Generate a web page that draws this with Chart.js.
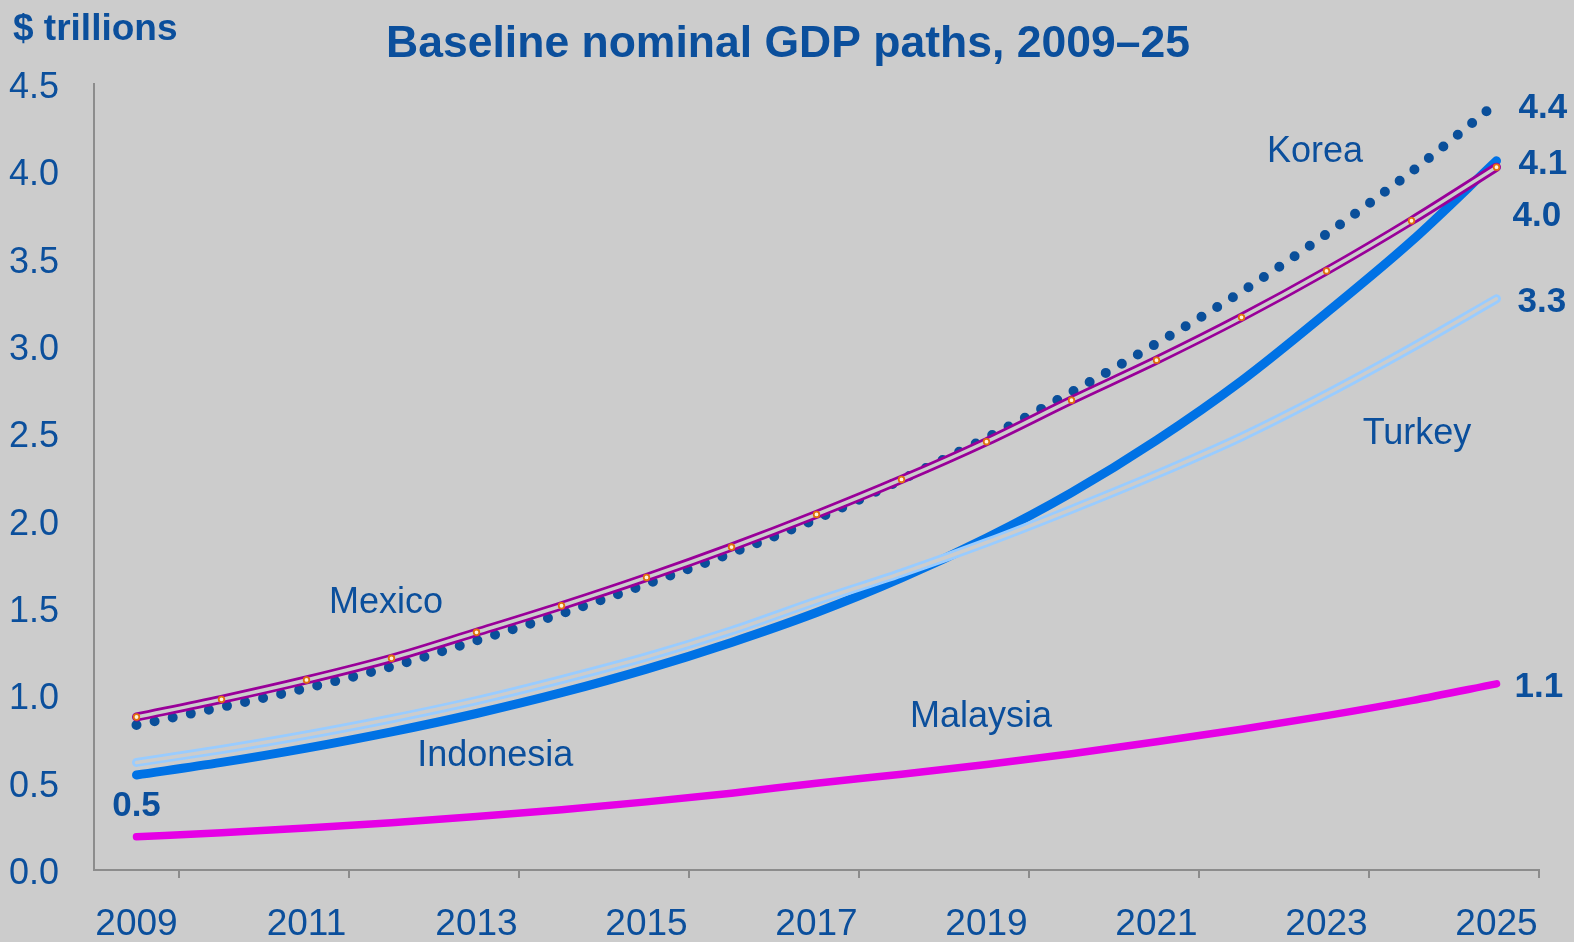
<!DOCTYPE html>
<html>
<head>
<meta charset="utf-8">
<script src="https://cdn.jsdelivr.net/npm/chart.js@4.4.1/dist/chart.umd.min.js"></script>
<style>
  html, body { margin: 0; padding: 0; background: #cccccc; }
  canvas { display: block; }
</style>
</head>
<body>
<canvas id="gdp-chart" width="1574" height="942"></canvas>
<script>
const years = ['2009', '2010', '2011', '2012', '2013', '2014', '2015', '2016', '2017',
  '2018', '2019', '2020', '2021', '2022', '2023', '2024', '2025'];

// $ trillions
const korea = [0.830, 0.933, 1.042, 1.165, 1.314, 1.468, 1.637, 1.815, 2.010,
  2.235, 2.473, 2.736, 3.014, 3.311, 3.641, 3.998, 4.390];
const mexico = [0.876, 0.977, 1.088, 1.212, 1.361, 1.513, 1.675, 1.849, 2.036,
  2.236, 2.452, 2.690, 2.919, 3.164, 3.430, 3.717, 4.024];
const indonesia = [0.544, 0.616, 0.698, 0.791, 0.896, 1.015, 1.150, 1.303, 1.474,
  1.672, 1.900, 2.160, 2.460, 2.800, 3.190, 3.600, 4.060];
const turkey = [0.616, 0.690, 0.773, 0.866, 0.970, 1.090, 1.220, 1.370, 1.540,
  1.700, 1.875, 2.065, 2.265, 2.480, 2.725, 2.990, 3.270];
const malaysia = [0.190, 0.213, 0.240, 0.271, 0.306, 0.345, 0.390, 0.440, 0.497,
  0.548, 0.604, 0.666, 0.734, 0.806, 0.884, 0.970, 1.066];

const yTicks = [0, 0.5, 1, 1.5, 2, 2.5, 3, 3.5, 4, 4.5];
const titleText = 'Baseline nominal GDP paths, 2009\u201325';
const unitText = '$ trillions';

const BG = '#cccccc';
const TEXT = '#0b4f9c';
const AXIS = '#8c8c8c';
const FONT = '"Liberation Sans", Arial, sans-serif';

// series name labels, placed in data units (x = category index, y = value)
const nameLabels = [
  { text: 'Korea', x: 13.865, y: 4.128 },
  { text: 'Mexico', x: 2.935, y: 1.543 },
  { text: 'Indonesia', x: 4.22, y: 0.667 },
  { text: 'Turkey', x: 15.065, y: 2.516 },
  { text: 'Malaysia', x: 9.935, y: 0.895 }
];

// value labels taken from the series themselves
const valueLabels = [
  { data: korea, i: 16, dx: 22, dy: 2, align: 'left' },
  { data: indonesia, i: 16, dx: 22, dy: 1, align: 'left' },
  { data: mexico, i: 16, dx: 16, dy: 46, align: 'left' },
  { data: turkey, i: 16, dx: 21, dy: 1, align: 'left' },
  { data: malaysia, i: 16, dx: 18, dy: 1, align: 'left' },
  { data: indonesia, i: 0, dx: 0, dy: 29, align: 'center' }
];

const textPlugin = {
  id: 'texts',
  afterDraw(chart) {
    const { ctx, scales: { x, y } } = chart;
    ctx.save();
    ctx.fillStyle = TEXT;
    ctx.textBaseline = 'alphabetic';

    ctx.font = 'bold 44.5px ' + FONT;
    ctx.textAlign = 'center';
    ctx.fillText(titleText, chart.width / 2 + 1, 57);

    ctx.font = 'bold 37px ' + FONT;
    ctx.textAlign = 'left';
    ctx.fillText(unitText, 13, 40);

    ctx.font = '36px ' + FONT;
    ctx.textAlign = 'center';
    nameLabels.forEach(l => {
      ctx.fillText(l.text, x.getPixelForValue(l.x), y.getPixelForValue(l.y) + 13);
    });

    ctx.font = 'bold 35px ' + FONT;
    valueLabels.forEach(l => {
      const v = l.data[l.i];
      ctx.textAlign = l.align;
      ctx.fillText(v.toFixed(1), x.getPixelForValue(l.i) + l.dx, y.getPixelForValue(v) + l.dy + 12.5);
    });
    ctx.restore();
  }
};

new Chart(document.getElementById('gdp-chart'), {
  type: 'line',
  data: {
    labels: years,
    datasets: [
      {
        label: 'Mexico markers',
        data: mexico,
        borderColor: BG,
        borderWidth: 3.5,
        pointRadius: 2.8,
        pointBorderWidth: 1.8,
        pointBorderColor: '#e0700f',
        pointBackgroundColor: '#fff4d6',
        cubicInterpolationMode: 'monotone',
        order: 0
      },
      {
        label: 'Mexico',
        data: mexico,
        borderColor: '#990099',
        borderWidth: 9,
        borderCapStyle: 'round',
        pointRadius: 0,
        cubicInterpolationMode: 'monotone',
        order: 1
      },
      {
        label: 'Korea',
        data: korea,
        borderColor: '#0a4f9a',
        borderWidth: 10,
        borderCapStyle: 'round',
        borderDash: [0, 18.5],
        pointRadius: 0,
        cubicInterpolationMode: 'monotone',
        order: 2
      },
      {
        label: 'Turkey inner',
        data: turkey,
        borderColor: BG,
        borderWidth: 3.5,
        borderCapStyle: 'round',
        pointRadius: 0,
        cubicInterpolationMode: 'monotone',
        order: 3
      },
      {
        label: 'Turkey',
        data: turkey,
        borderColor: '#99ccff',
        borderWidth: 9,
        borderCapStyle: 'round',
        pointRadius: 0,
        cubicInterpolationMode: 'monotone',
        order: 4
      },
      {
        label: 'Indonesia',
        data: indonesia,
        borderColor: '#0072e5',
        borderWidth: 9,
        borderCapStyle: 'round',
        pointRadius: 0,
        cubicInterpolationMode: 'monotone',
        order: 5
      },
      {
        label: 'Malaysia',
        data: malaysia,
        borderColor: '#e600e6',
        borderWidth: 7.5,
        borderCapStyle: 'round',
        pointRadius: 0,
        cubicInterpolationMode: 'monotone',
        order: 6
      }
    ]
  },
  options: {
    responsive: false,
    animation: false,
    layout: { padding: { left: 9, right: 35, top: 84, bottom: 0 } },
    plugins: {
      legend: { display: false },
      title: { display: false },
      tooltip: { enabled: false }
    },
    scales: {
      x: {
        type: 'category',
        offset: true,
        grid: {
          display: true,
          offset: true,
          drawOnChartArea: false,
          tickLength: 8,
          lineWidth: 2,
          tickColor: ctx => (ctx.index === undefined || ctx.index % 2 === 1) ? AXIS : 'rgba(0,0,0,0)'
        },
        border: { display: true, color: AXIS, width: 2 },
        ticks: {
          autoSkip: false,
          maxRotation: 0,
          padding: 25,
          color: TEXT,
          font: { family: FONT, size: 37 },
          callback: (value, index) => index % 2 === 0 ? years[index] : ''
        },
        afterFit: scale => { scale.height = 72; }
      },
      y: {
        min: 0,
        max: 4.5,
        afterBuildTicks: scale => { scale.ticks = yTicks.map(v => ({ value: v })); },
        grid: { display: true, drawOnChartArea: false, drawTicks: false },
        border: { display: true, color: AXIS, width: 2 },
        ticks: {
          crossAlign: 'far',
          labelOffset: 4,
          color: TEXT,
          font: { family: FONT, size: 36 },
          callback: v => Number(v).toFixed(1)
        },
        afterFit: scale => { scale.width = 85; }
      }
    }
  },
  plugins: [textPlugin]
});
</script>
</body>
</html>
